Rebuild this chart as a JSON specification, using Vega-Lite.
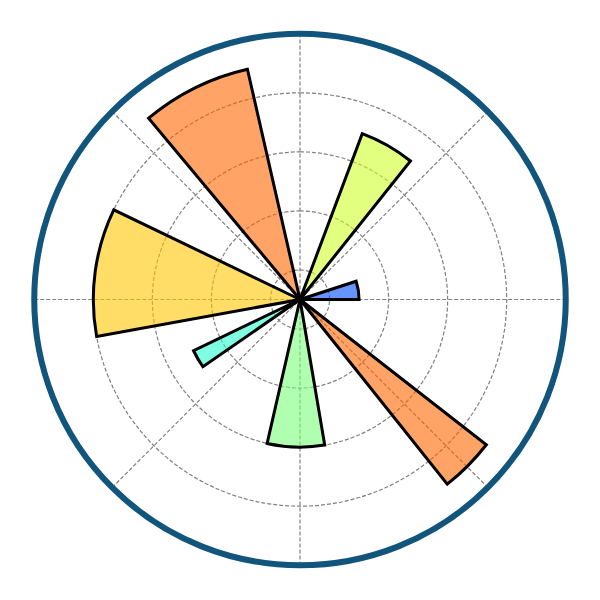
{
  "$schema": "https://vega.github.io/schema/vega-lite/v6.json",
  "width": 600,
  "height": 600,
  "padding": 0,
  "autosize": {"type": "none"},
  "background": "white",
  "config": {"view": {"stroke": null}},
  "layer": [
    {
      "data": {"values": [
        {"x1": -9, "y1": 0, "x2": 9, "y2": 0},
        {"x1": 0, "y1": -9, "x2": 0, "y2": 9},
        {"x1": -6.364, "y1": -6.364, "x2": 6.364, "y2": 6.364},
        {"x1": -6.364, "y1": 6.364, "x2": 6.364, "y2": -6.364}
      ]},
      "mark": {"type": "rule", "stroke": "#808080", "strokeWidth": 1.2, "strokeDash": [4, 2]},
      "encoding": {
        "x": {"field": "x1", "type": "quantitative", "scale": {"domain": [-9, 9], "range": [34.25, 565.75]}, "axis": null},
        "y": {"field": "y1", "type": "quantitative", "scale": {"domain": [-9, 9], "range": [565.5, 33.5]}, "axis": null},
        "x2": {"field": "x2"},
        "y2": {"field": "y2"}
      }
    },
    {
      "data": {"values": [{"ring": 1}, {"ring": 3}, {"ring": 5}, {"ring": 7}]},
      "mark": {"type": "arc", "theta": 0, "theta2": 6.2832, "fill": null, "stroke": "#808080", "strokeWidth": 1.2, "strokeDash": [4, 2], "y": 299.5},
      "encoding": {
        "radius": {"field": "ring", "type": "quantitative", "stack": null, "scale": {"type": "linear", "domain": [0, 9], "range": [0, 265.75]}}
      }
    },
    {
      "data": {"values": [
        {"start": 0, "end": 18, "r": 2},
        {"start": 51.43, "end": 69.43, "r": 6},
        {"start": 102.86, "end": 129.86, "r": 8},
        {"start": 154.29, "end": 190.29, "r": 7},
        {"start": 205.71, "end": 214.71, "r": 4},
        {"start": 257.14, "end": 279.64, "r": 5},
        {"start": 308.57, "end": 322.07, "r": 8}
      ]},
      "mark": {"type": "arc", "stroke": "black", "strokeWidth": 3, "fillOpacity": 0.6, "strokeJoin": "miter", "y": 299.5},
      "encoding": {
        "theta": {"field": "start", "type": "quantitative", "stack": null, "scale": {"domain": [0, 360], "range": [1.5708, -4.7124]}},
        "theta2": {"field": "end"},
        "radius": {"field": "r", "type": "quantitative", "stack": null},
        "color": {"field": "r", "type": "ordinal", "legend": null, "scale": {"domain": [2, 4, 5, 6, 7, 8], "range": ["#004dff", "#29ffce", "#7bff7b", "#ceff29", "#ffc600", "#ff6800"]}}
      }
    },
    {
      "data": {"values": [{"edge": 9}]},
      "mark": {"type": "arc", "theta": 0, "theta2": 6.2832, "fill": null, "stroke": "#11557c", "strokeWidth": 6, "y": 299.5},
      "encoding": {
        "radius": {"field": "edge", "type": "quantitative", "stack": null}
      }
    }
  ]
}
